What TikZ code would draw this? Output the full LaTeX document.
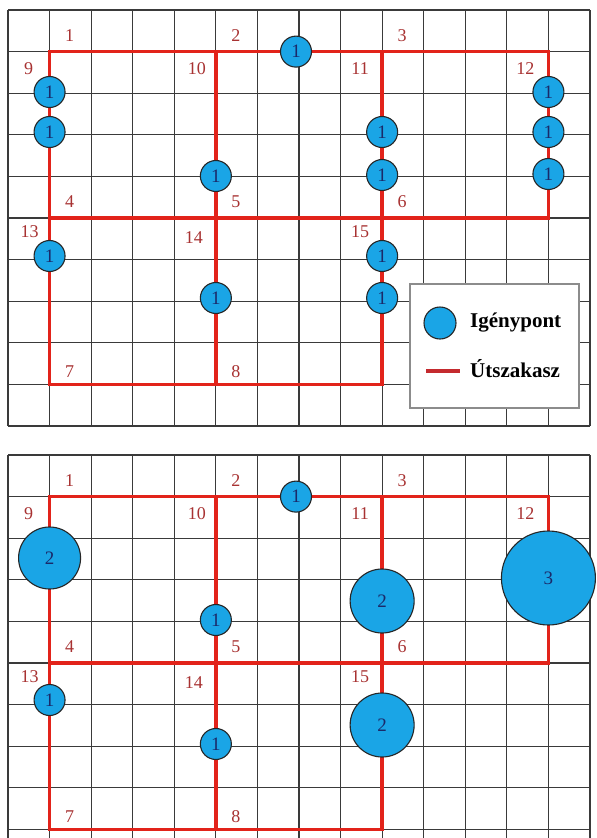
\documentclass[tikz,border=0pt]{standalone}
\usepackage{fontspec}
\setmainfont{Liberation Serif}
\definecolor{gridc}{HTML}{3A3A3A}
\definecolor{roadc}{HTML}{E2231A}
\definecolor{labc}{HTML}{A83232}
\definecolor{dotc}{HTML}{1AA5E6}
\definecolor{digc}{HTML}{1A2A6A}
\definecolor{legroad}{HTML}{C42A2E}
\tikzset{
  gridline/.style={draw=gridc, line width=1.1pt},
  road/.style={draw=roadc, line width=3.4pt, line cap=rect},
  seglab/.style={text=labc, inner sep=0pt, font=\fontsize{18}{18}\selectfont},
  demand/.style={circle, draw=black!85, line width=1.1pt, fill=dotc, inner sep=0pt,
                 text=digc, font=\fontsize{19}{19}\selectfont, minimum size=#1},
  demand/.default=31pt,
  legtext/.style={anchor=west, inner sep=0pt, font=\fontsize{21}{21}\selectfont\bfseries}
}
\newcommand\roadpanel[2]{%
  % #1 prefix, #2 y offset (top grid line)
  \foreach \i in {0,...,14}{\draw[gridline] (8+\i*41.571,#2) -- (8+\i*41.571,#2+416);}
  \foreach \j in {0,...,10}{\draw[gridline] (8,#2+\j*41.6) -- (590,#2+\j*41.6);}
  \coordinate (#1A) at (49.57,#2+41.6);
  \coordinate (#1B) at (215.86,#2+41.6);
  \coordinate (#1C) at (382.14,#2+41.6);
  \coordinate (#1D) at (548.43,#2+41.6);
  \coordinate (#1E) at (49.57,#2+208);
  \coordinate (#1F) at (215.86,#2+208);
  \coordinate (#1G) at (382.14,#2+208);
  \coordinate (#1H) at (548.43,#2+208);
  \coordinate (#1I) at (49.57,#2+374.4);
  \coordinate (#1J) at (215.86,#2+374.4);
  \coordinate (#1K) at (382.14,#2+374.4);
  \draw[road] (#1A) -- (#1B);
  \draw[road] (#1B) -- (#1C);
  \draw[road] (#1C) -- (#1D);
  \draw[road] (#1E) -- (#1F);
  \draw[road] (#1F) -- (#1G);
  \draw[road] (#1G) -- (#1H);
  \draw[road] (#1I) -- (#1J);
  \draw[road] (#1J) -- (#1K);
  \draw[road] (#1A) -- (#1E);
  \draw[road] (#1B) -- (#1F);
  \draw[road] (#1C) -- (#1G);
  \draw[road] (#1D) -- (#1H);
  \draw[road] (#1E) -- (#1I);
  \draw[road] (#1F) -- (#1J);
  \draw[road] (#1G) -- (#1K);
  \node[seglab] (#1s1) at ([shift={(20,-16)}]#1A) {1};
  \node[seglab] (#1s2) at ([shift={(20,-16)}]#1B) {2};
  \node[seglab] (#1s3) at ([shift={(20,-16)}]#1C) {3};
  \node[seglab] (#1s4) at ([shift={(20,-16)}]#1E) {4};
  \node[seglab] (#1s5) at ([shift={(20,-16)}]#1F) {5};
  \node[seglab] (#1s6) at ([shift={(20,-16)}]#1G) {6};
  \node[seglab] (#1s7) at ([shift={(20,-13)}]#1I) {7};
  \node[seglab] (#1s8) at ([shift={(20,-13)}]#1J) {8};
  \node[seglab] (#1s9) at ([shift={(-21,17)}]#1A) {9};
  \node[seglab] (#1s10) at ([shift={(-19,17)}]#1B) {10};
  \node[seglab] (#1s11) at ([shift={(-22,17)}]#1C) {11};
  \node[seglab] (#1s12) at ([shift={(-23,17)}]#1D) {12};
  \node[seglab] (#1s13) at ([shift={(-20,14)}]#1E) {13};
  \node[seglab] (#1s14) at ([shift={(-22,20)}]#1F) {14};
  \node[seglab] (#1s15) at ([shift={(-22,14)}]#1G) {15};
}
\begin{document}
\begin{tikzpicture}[x=1pt,y=-1pt]
\useasboundingbox (0,0) rectangle (597,838);
\fill[white] (0,0) rectangle (597,838);
\begin{scope}
\clip (0,0) rectangle (597,838);
\roadpanel{t}{10}
\roadpanel{b}{455}
\end{scope}
% top panel demand points
\node[demand] (t1) at (49.57,92) {1};
\node[demand] (t2) at (49.57,132) {1};
\node[demand] (t3) at (215.86,176) {1};
\node[demand] (t4) at (296,51.6) {1};
\node[demand] (t5) at (382.14,132) {1};
\node[demand] (t6) at (382.14,175) {1};
\node[demand] (t7) at (548.43,92) {1};
\node[demand] (t8) at (548.43,132) {1};
\node[demand] (t9) at (548.43,174) {1};
\node[demand] (t10) at (49.57,256) {1};
\node[demand] (t11) at (215.86,298) {1};
\node[demand] (t12) at (382.14,256) {1};
\node[demand] (t13) at (382.14,298) {1};
% legend
\draw[draw=black!45, line width=1.6pt, fill=white] (410,284) rectangle (579,408);
\node[demand=32pt] (legdot) at (440,323) {};
\node[legtext] (legdotlab) at (470,323) {Igénypont};
\coordinate (legl1) at (426,371);
\coordinate (legl2) at (460,371);
\draw[draw=legroad, line width=4.5pt] (legl1) -- (legl2);
\node[legtext] (legroadlab) at (470,369) {Útszakasz};
% bottom panel demand points
\node[demand=62pt] (b1) at (49.57,558) {2};
\node[demand] (b2) at (296,496.6) {1};
\node[demand] (b3) at (215.86,620) {1};
\node[demand=64pt] (b4) at (382.14,601) {2};
\node[demand=94pt] (b5) at (548.43,578) {3};
\node[demand] (b6) at (49.57,700) {1};
\node[demand] (b7) at (215.86,744) {1};
\node[demand=64pt] (b8) at (382.14,725) {2};
\end{tikzpicture}
\end{document}
